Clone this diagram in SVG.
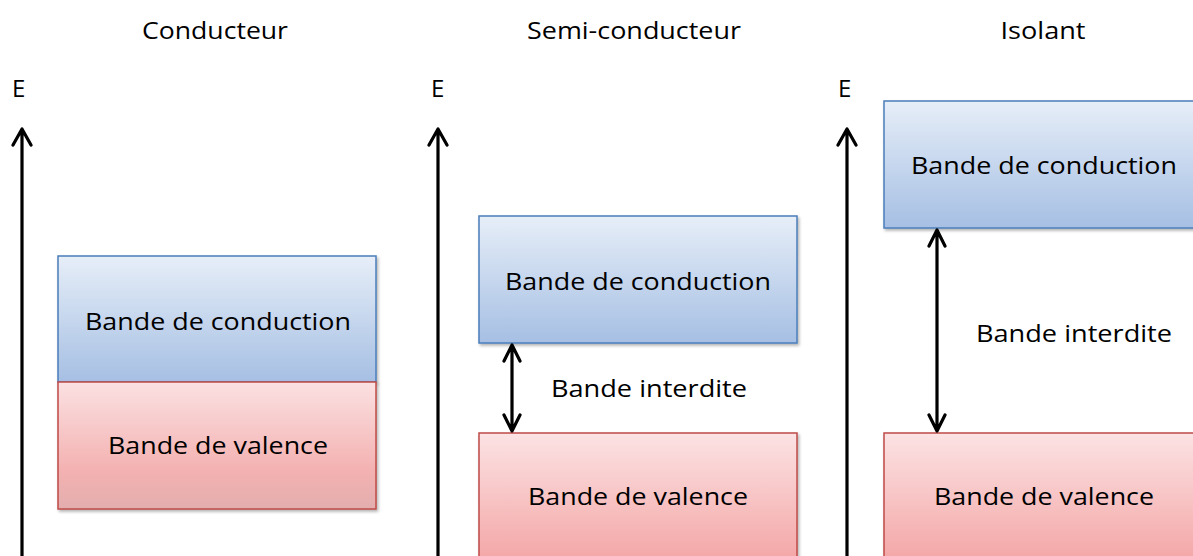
<svg xmlns="http://www.w3.org/2000/svg" width="1193" height="556" viewBox="0 0 1193 556">
<style>
text{font-family:"Open Sans","Liberation Sans",sans-serif;fill:#000;font-size:24px;}
.m{text-anchor:middle;}
.cb{fill:url(#gb);stroke:#4a7ebb;stroke-width:1.5;filter:url(#sh);}
.vb{fill:url(#gr);stroke:#be4b48;stroke-width:1.5;filter:url(#sh);}
.vb2{fill:url(#gr2);stroke:#be4b48;stroke-width:1.5;filter:url(#sh);}
.ln{stroke:#000;stroke-width:3.2;fill:none;stroke-linecap:round;stroke-linejoin:round;}
</style>
<defs>
<linearGradient id="gb" x1="0" y1="0" x2="0" y2="1"><stop offset="0" stop-color="#e6eef8"/><stop offset="1" stop-color="#a6bfe3"/></linearGradient>
<linearGradient id="gr" x1="0" y1="0" x2="0" y2="1"><stop offset="0" stop-color="#fce3e4"/><stop offset="1" stop-color="#f3a0a0"/></linearGradient>
<linearGradient id="gr2" x1="0" y1="0" x2="0" y2="1"><stop offset="0" stop-color="#fbe1e2"/><stop offset="0.7" stop-color="#f4b1b1"/><stop offset="1" stop-color="#e3aeae"/></linearGradient>
<filter id="sh" x="-5%" y="-5%" width="115%" height="115%"><feDropShadow dx="1.5" dy="2" stdDeviation="1.5" flood-color="#000" flood-opacity="0.3"/></filter>
</defs>
<g id="titles">
<text class="m" x="215" y="39" textLength="146" lengthAdjust="spacingAndGlyphs">Conducteur</text>
<text class="m" x="634" y="39" textLength="214" lengthAdjust="spacingAndGlyphs">Semi-conducteur</text>
<text class="m" x="1043" y="39" textLength="85" lengthAdjust="spacingAndGlyphs">Isolant</text>
</g>
<g id="conducteur-cb"><rect class="cb" x="58" y="256" width="318" height="126"/><text class="m" x="218" y="330" textLength="266" lengthAdjust="spacingAndGlyphs">Bande de conduction</text></g>
<g id="conducteur-vb"><rect class="vb2" x="58" y="382" width="318" height="127"/><text class="m" x="218" y="454" textLength="220" lengthAdjust="spacingAndGlyphs">Bande de valence</text></g>
<g id="semi-cb"><rect class="cb" x="479" y="216" width="318" height="127"/><text class="m" x="638" y="290" textLength="266" lengthAdjust="spacingAndGlyphs">Bande de conduction</text></g>
<g id="semi-vb"><rect class="vb" x="479" y="433" width="318" height="140"/><text class="m" x="638" y="505" textLength="220" lengthAdjust="spacingAndGlyphs">Bande de valence</text></g>
<g id="iso-cb"><rect class="cb" x="884" y="101" width="320" height="127"/><text class="m" x="1044" y="174" textLength="266" lengthAdjust="spacingAndGlyphs">Bande de conduction</text></g>
<g id="iso-vb"><rect class="vb" x="884" y="433" width="320" height="140"/><text class="m" x="1044" y="505" textLength="220" lengthAdjust="spacingAndGlyphs">Bande de valence</text></g>
<g id="labels">
<text x="12" y="97">E</text>
<text x="431" y="97">E</text>
<text x="838" y="97">E</text>
<text class="m" x="649" y="397" textLength="196" lengthAdjust="spacingAndGlyphs">Bande interdite</text>
<text class="m" x="1074" y="342" textLength="196" lengthAdjust="spacingAndGlyphs">Bande interdite</text>
</g>
<g id="connectors">
<path class="ln" d="M22,560 L22,129 M13,145 L22,129 L31,145"/>
<path class="ln" d="M438,560 L438,129 M429,145 L438,129 L447,145"/>
<path class="ln" d="M847,560 L847,129 M838,145 L847,129 L856,145"/>
<path class="ln" d="M512,345 L512,431 M504,361 L512,345 L520,361 M504,415 L512,431 L520,415"/>
<path class="ln" d="M937,230 L937,431 M929,246 L937,230 L945,246 M929,415 L937,431 L945,415"/>
</g>
</svg>
